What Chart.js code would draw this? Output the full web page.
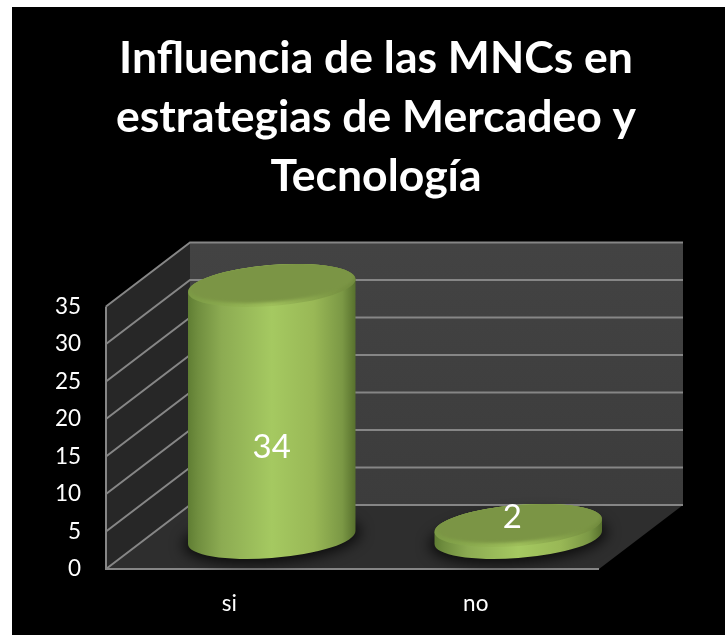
<!DOCTYPE html>
<html><head><meta charset="utf-8">
<style>html,body{margin:0;padding:0;background:#fff;overflow:hidden}
#wrap{position:absolute;left:12px;top:7px;width:713px;height:628px;background:#000}
canvas{display:block}</style>
<script src="https://cdn.jsdelivr.net/npm/chart.js@4/dist/chart.umd.min.js"></script>
</head><body><div id="wrap"><canvas id="c" width="713" height="628"></canvas></div>
<script>
const categories = ["si", "no"];
const values = [34, 2];
const titleLines = ["Influencia de las MNCs en", "estrategias de Mercadeo y", "Tecnología"];
const yMax = 35;
const yStep = 5;

const FONT = "Lato, Carlito, 'Open Sans', sans-serif";
const DX = 84, DY = -64;      // depth vector of the 3D box
const A = 84, B = 20.5, ROT = -4.7 * Math.PI / 180; // cylinder ellipse
const DEPTH_X = 42.5, TOP_Y = -28.5, BASE_Y = -31.5;
const labelShift = [[0, 162], [-6, -8.5]]; // label offset in px from the bar's top point

function wallPoly(ctx, pts, fill){
  ctx.beginPath(); pts.forEach((p,i)=> i?ctx.lineTo(p[0],p[1]):ctx.moveTo(p[0],p[1])); ctx.closePath();
  ctx.fillStyle = fill; ctx.fill();
}
const box3d = {
  id: 'box3d',
  beforeDatasetsDraw(chart){
    const {ctx, chartArea:{left:l,right:r,top:t,bottom:b}, scales:{y}} = chart;
    ctx.save();
    const bw = ctx.createLinearGradient(0,t+DY,0,b+DY);
    bw.addColorStop(0,'#434343'); bw.addColorStop(1,'#3c3c3c');
    wallPoly(ctx,[[l+DX,t+DY],[r+DX,t+DY],[r+DX,b+DY],[l+DX,b+DY]],bw);
    wallPoly(ctx,[[l,t],[l+DX,t+DY],[l+DX,b+DY],[l,b]],'#272727');
    wallPoly(ctx,[[l,b],[l+DX,b+DY],[r+DX,b+DY],[r,b]],'#2e2e2e');
    ctx.strokeStyle='#868686'; ctx.lineWidth=2;
    y.ticks.forEach(tk=>{
      const py = y.getPixelForValue(tk.value);
      ctx.beginPath(); ctx.moveTo(l,py); ctx.lineTo(l+DX,py+DY); ctx.lineTo(r+DX,py+DY); ctx.stroke();
    });
    ctx.beginPath(); ctx.moveTo(l,t); ctx.lineTo(l,b); ctx.lineTo(r,b); ctx.stroke();
    ctx.restore();
  },
  afterDatasetsDraw(chart){
    const {ctx} = chart;
    const meta = chart.getDatasetMeta(0);
    meta.data.forEach((bar,i)=>{
      const cx = bar.x + DEPTH_X, top = bar.y + TOP_Y, base = bar.base + BASE_Y;
      const t0 = Math.atan2(-B*Math.sin(ROT), A*Math.cos(ROT));
      ctx.save();
      ctx.save();
      ctx.filter='blur(7px)'; ctx.fillStyle='rgba(0,0,0,0.75)';
      ctx.beginPath(); ctx.ellipse(cx,base+1,A+5,B+4,ROT,0,Math.PI*2); ctx.fill();
      ctx.restore();
      const g = ctx.createLinearGradient(cx-A,0,cx+A,0);
      g.addColorStop(0,'#5f7d33'); g.addColorStop(0.06,'#708e3f'); g.addColorStop(0.2,'#8cab52');
      g.addColorStop(0.5,'#a5c961'); g.addColorStop(0.75,'#99b856'); g.addColorStop(0.92,'#7b9845'); g.addColorStop(1,'#57702d');
      ctx.beginPath();
      ctx.ellipse(cx,base,A,B,ROT,t0,t0+Math.PI);
      ctx.ellipse(cx,top,A,B,ROT,t0+Math.PI,t0+2*Math.PI);
      ctx.closePath(); ctx.fillStyle=g; ctx.fill();
      const rim = ctx.createLinearGradient(cx-A,0,cx+A,0);
      rim.addColorStop(0,'#7b9a45'); rim.addColorStop(0.5,'#9fc05b'); rim.addColorStop(1,'#70893d');
      ctx.beginPath(); ctx.ellipse(cx,top,A,B,ROT,0,Math.PI*2); ctx.fillStyle=rim; ctx.fill();
      ctx.save();
      ctx.beginPath(); ctx.ellipse(cx,top,A,B,ROT,0,Math.PI*2); ctx.clip();
      ctx.filter='blur(1.5px)';
      ctx.beginPath(); ctx.ellipse(cx,top-3,A-1,B-1,ROT,0,Math.PI*2); ctx.fillStyle='#7b9545'; ctx.fill();
      ctx.restore();
      ctx.restore();
    });
    ctx.save();
    ctx.fillStyle='#fff'; ctx.textAlign='center'; ctx.textBaseline='middle';
    ctx.font=`33px ${FONT}`;
    meta.data.forEach((bar,i)=>{
      const s = labelShift[i];
      ctx.fillText(String(values[i]), bar.x + DEPTH_X + s[0], bar.y + TOP_Y + s[1]);
    });
    ctx.restore();
  }
};

new Chart(document.getElementById('c'), {
  type:'bar',
  data:{labels:categories, datasets:[{data:values, backgroundColor:'rgba(0,0,0,0)', borderWidth:0}]},
  options:{
    responsive:false, animation:false,
    layout:{padding:{left:15,right:0,top:0,bottom:0}},
    plugins:{
      legend:{display:false}, tooltip:{enabled:false},
      title:{display:true, text:titleLines, color:'#fff', align:'center', fullSize:true,
        font:{family:FONT,size:44.5,weight:'bold',lineHeight:1.33}, padding:{top:22,bottom:100}}
    },
    scales:{
      x:{grid:{display:false}, border:{display:false},
        ticks:{color:'#fff',font:{family:FONT,size:22.5},padding:13},
        afterFit(s){s.height=66;}},
      y:{min:0,max:yMax, grid:{display:false}, border:{display:false},
        ticks:{stepSize:yStep,color:'#fff',font:{family:FONT,size:22.5},padding:17},
        afterFit(s){s.width=79;}},
      rightGap:{position:'right',display:true,grid:{display:false},border:{display:false},ticks:{display:false},
        afterFit(s){s.width=126;}}
    }
  },
  plugins:[box3d]
});
</script></body></html>
